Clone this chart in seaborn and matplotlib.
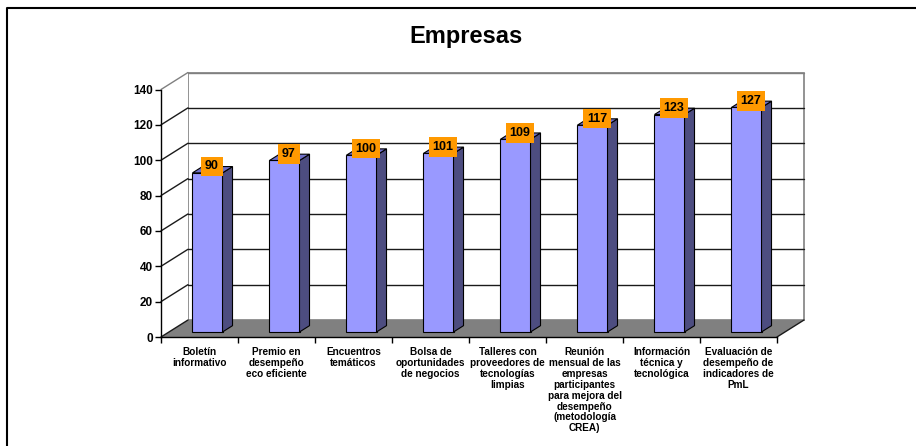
import numpy as np
import pandas as pd
import matplotlib
matplotlib.use("Agg")
import matplotlib.pyplot as plt
import seaborn as sns
from matplotlib.patches import Polygon
from matplotlib.lines import Line2D
from matplotlib.transforms import IdentityTransform, offset_copy

# ---- data ----
categories = [
    "Boletín\ninformativo",
    "Premio en\ndesempeño\neco eficiente",
    "Encuentros\ntemáticos",
    "Bolsa de\noportunidades\nde negocios",
    "Talleres con\nproveedores de\ntecnologías\nlimpias",
    "Reunión\nmensual de las\nempresas\nparticipantes\npara mejora del\ndesempeño\n(metodología\nCREA)",
    "Información\ntécnica y\ntecnológica",
    "Evaluación de\ndesempeño de\nindicadores de\nPmL",
]
values = [90, 97, 100, 101, 109, 117, 123, 127]
yticks = [0, 20, 40, 60, 80, 100, 120, 140]
title = "Empresas"

sns.set_theme(style="white")
plt.rcParams["font.family"] = ["Liberation Sans", "DejaVu Sans"]
for k in ["text.color", "axes.labelcolor", "xtick.color", "ytick.color"]:
    plt.rcParams[k] = "black"

W, H = 916, 446
fig = plt.figure(figsize=(W / 100, H / 100), dpi=100)
fig.patch.set_facecolor("white")

# front plane of the 3-D box
x0, x1 = 161, 777
yb, yt = 337, 89.5
ax = fig.add_axes([x0 / W, (H - yb) / H, (x1 - x0) / W, (yb - yt) / H])
ax.patch.set_visible(False)

df = pd.DataFrame({"cat": categories, "val": values})
sns.barplot(data=df, x="cat", y="val", ax=ax, color="#9999FF", saturation=1,
            width=0.39, edgecolor="black", linewidth=0.8, zorder=5)
ax.set_xlim(-0.5, len(categories) - 0.5)
ax.set_ylim(yticks[0], yticks[-1])
ax.set_xlabel("")
ax.set_ylabel("")

DX, DY = 27.0, 17.0      # depth vector (pixels)
d0, d1 = 8 / 27, 18 / 27  # bar front/back depth fraction


def P(x, y, d):
    px, py = ax.transData.transform((x, y))
    return (px + d * DX, py + d * DY)


def poly(pts, **kw):
    pg = Polygon(pts, closed=True, transform=IdentityTransform(), clip_on=False, **kw)
    ax.add_artist(pg)
    return pg


def line(p, q, **kw):
    ln = Line2D([p[0], q[0]], [p[1], q[1]], transform=IdentityTransform(),
                clip_on=False, **kw)
    ax.add_artist(ln)


xl, xr = -0.5, len(categories) - 0.5
ymax = yticks[-1]
# back wall
poly([P(xl, 0, 1), P(xr, 0, 1), P(xr, ymax, 1), P(xl, ymax, 1)],
     facecolor="white", edgecolor="#808080", linewidth=1.2, zorder=0.5)
# left wall
poly([P(xl, 0, 0), P(xl, 0, 1), P(xl, ymax, 1), P(xl, ymax, 0)],
     facecolor="white", edgecolor="none", zorder=0.5)
for v in yticks[1:]:
    c = "#808080" if v == ymax else "#1a1a1a"
    line(P(xl, v, 1), P(xr, v, 1), color=c, lw=1.0, zorder=0.8)
    line(P(xl, v, 0), P(xl, v, 1), color=c, lw=1.0, zorder=0.8)
# floor
poly([P(xl, 0, 0), P(xr, 0, 0), P(xr, 0, 1), P(xl, 0, 1)],
     facecolor="#808080", edgecolor="none", zorder=1)
line(P(xl, 0, 0), P(xl, 0, 1), color="#1a1a1a", lw=1.0, zorder=1.2)
line(P(xr, 0, 0), P(xr, 0, 1), color="#1a1a1a", lw=1.0, zorder=1.2)

# 3-D bars
for p, v in zip(ax.patches, values):
    p.set_transform(offset_copy(ax.transData, fig=fig, x=d0 * DX, y=d0 * DY, units="dots"))
    p.set_clip_on(False)
    x, w, h = p.get_x(), p.get_width(), p.get_height()
    poly([P(x + w, 0, d0), P(x + w, h, d0), P(x + w, h, d1), P(x + w, 0, d1)],
         facecolor="#4D4D80", edgecolor="black", linewidth=0.8, zorder=5)
    poly([P(x, h, d0), P(x + w, h, d0), P(x + w, h, d1), P(x, h, d1)],
         facecolor="#7070C8", edgecolor="black", linewidth=0.8, zorder=5)
    ax.annotate(f"{v}", xy=(x + w / 2, h), xytext=(12.5 * 0.72, 11.5 * 0.72),
                textcoords="offset points", ha="center", va="center",
                fontsize=9, fontweight="bold", color="black",
                bbox=dict(boxstyle="square,pad=0.3", fc="#FF9900", ec="none"),
                zorder=10, annotation_clip=False)

# axes styling
for s in ["top", "right"]:
    ax.spines[s].set_visible(False)
for s in ["left", "bottom"]:
    ax.spines[s].set_color("black")
    ax.spines[s].set_linewidth(1.0)
    ax.spines[s].set_zorder(2)
ax.set_yticks(yticks)
ax.set_yticklabels([str(t) for t in yticks], fontsize=8.5, fontweight="bold", color="black")
ax.tick_params(axis="y", length=4, width=1, color="black", direction="out", pad=2, left=True)
ax.set_xticks(range(len(categories)))
ax.set_xticklabels(categories, fontsize=7.2, fontweight="bold", linespacing=1.12,
                   va="top", ha="center", color="black")
ax.tick_params(axis="x", which="major", length=0, pad=7)
ax.set_xticks(np.arange(-0.5, len(categories), 1.0), minor=True)
ax.tick_params(axis="x", which="minor", length=4, width=1, color="black",
               direction="out", bottom=True)

fig.text(466 / W, 1 - 37 / H, title, ha="center", va="center",
         fontsize=17, fontweight="bold", color="black")

# chart-area border (top and left edges visible)
fig.add_artist(Line2D([6.5 / W, 6.5 / W, 1.0], [0.0, 1 - 8.3 / H, 1 - 8.3 / H],
                      transform=fig.transFigure, color="black", lw=1.5))

fig.savefig("out.png", dpi=100)
